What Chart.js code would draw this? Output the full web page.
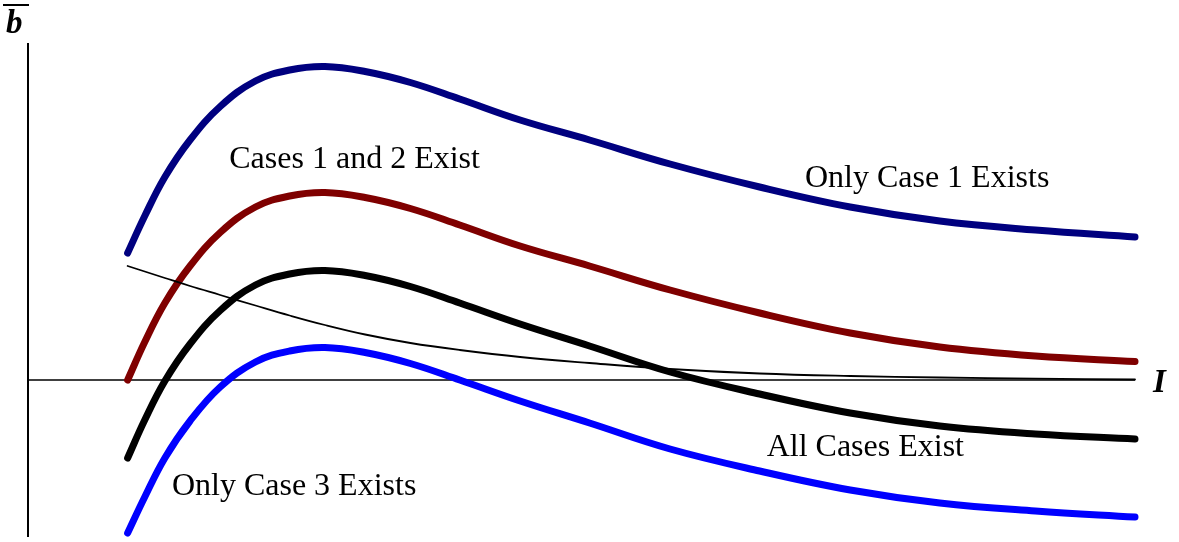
<!DOCTYPE html>
<html>
<head>
<meta charset="utf-8">
<script src="https://cdn.jsdelivr.net/npm/chart.js"></script>
<style>
  html, body { margin: 0; padding: 0; background: #fff; }
  canvas { display: block; }
</style>
</head>
<body>
<canvas id="chart-regions" width="1179" height="542"></canvas>
<script>
// values (I on x, b-bar on y)
const iValues = [0.99, 1.16, 1.36, 1.61, 1.91, 2.26, 2.60, 2.95, 3.35, 3.80, 4.29, 4.89, 5.58, 6.38, 7.27, 8.17, 9.06, 10.01, 11.0];

const navyCurve = [1.27, 1.64, 2.03, 2.40, 2.735, 2.99, 3.10, 3.135, 3.085, 2.975, 2.81, 2.60, 2.40, 2.16, 1.93, 1.73, 1.59, 1.50, 1.43];
const redCurve = [0.00, 0.38, 0.77, 1.14, 1.475, 1.73, 1.84, 1.875, 1.825, 1.715, 1.55, 1.34, 1.14, 0.90, 0.67, 0.47, 0.33, 0.24, 0.185];
const blackCurve = [-0.78, -0.40, -0.01, 0.36, 0.695, 0.95, 1.06, 1.095, 1.045, 0.935, 0.77, 0.56, 0.34, 0.08, -0.14, -0.33, -0.46, -0.54, -0.59];
const blueCurve = [-1.53, -1.17, -0.78, -0.41, -0.07, 0.18, 0.29, 0.325, 0.275, 0.165, 0.00, -0.21, -0.43, -0.69, -0.91, -1.10, -1.23, -1.31, -1.37];
const thinCurve = [1.14, 1.085, 1.02, 0.94, 0.85, 0.745, 0.645, 0.55, 0.455, 0.37, 0.30, 0.23, 0.17, 0.11, 0.065, 0.04, 0.025, 0.013, 0.005];

const regionLabels = ["Cases 1 and 2 Exist", "Only Case 1 Exists", "All Cases Exist", "Only Case 3 Exists"];
const labelI = [2.0, 7.72, 7.34, 1.43];
const labelB = [2.12, 1.93, -0.76, -1.15];

const xMax = 11;
const yMin = -1.57;
const yMax = 3.37;

function toPoints(ys) {
  return ys.map((y, i) => ({ x: iValues[i], y }));
}

function curve(ys, color, width) {
  return {
    data: toPoints(ys),
    borderColor: color,
    borderWidth: width,
    borderCapStyle: "round",
    borderJoinStyle: "round",
    pointRadius: 0,
    tension: 0.4,
    fill: false,
    clip: false,
  };
}

// axes + text, drawn by hand like the original
const axesPlugin = {
  id: "axes",
  beforeDatasetsDraw(chart) {
    const { ctx, scales } = chart;
    const x0 = scales.x.getPixelForValue(0);
    const x1 = scales.x.getPixelForValue(xMax);
    const y0 = scales.y.getPixelForValue(0);
    const yTop = scales.y.getPixelForValue(yMax);
    const yBot = scales.y.getPixelForValue(yMin);
    ctx.save();
    ctx.strokeStyle = "#000";
    ctx.lineWidth = 2;
    ctx.beginPath();
    ctx.moveTo(x0, yTop);
    ctx.lineTo(x0, yBot);
    ctx.stroke();
    ctx.lineWidth = 1.6;
    ctx.beginPath();
    ctx.moveTo(x0, y0);
    ctx.lineTo(x1, y0);
    ctx.stroke();
    ctx.restore();
  },
  afterDatasetsDraw(chart) {
    const { ctx, scales } = chart;
    ctx.save();
    ctx.fillStyle = "#000";
    ctx.textBaseline = "alphabetic";
    ctx.textAlign = "left";
    ctx.font = '32px "Liberation Serif", "Times New Roman", serif';
    regionLabels.forEach((t, i) => {
      ctx.fillText(t, scales.x.getPixelForValue(labelI[i]), scales.y.getPixelForValue(labelB[i]));
    });
    ctx.font = 'bold italic 33px "Liberation Serif", "Times New Roman", serif';
    const x0 = scales.x.getPixelForValue(0);
    const x1 = scales.x.getPixelForValue(xMax);
    const y0 = scales.y.getPixelForValue(0);
    ctx.fillText("I", x1 + 18, y0 + 12);
    ctx.fillText("b", x0 - 22, 33);
    // overbar of b
    ctx.fillRect(x0 - 25, 4, 26, 2);
    ctx.restore();
  },
};

function initRegionChart() {
  const ctx = document.getElementById("chart-regions");
  if (!ctx) return;

  new Chart(ctx, {
    type: "line",
    data: {
      datasets: [
        curve(thinCurve, "#000000", 1.8),
        curve(navyCurve, "#00007f", 7),
        curve(redCurve, "#7f0000", 7),
        curve(blackCurve, "#000000", 7),
        curve(blueCurve, "#0000ff", 7),
      ],
    },
    options: {
      responsive: false,
      animation: false,
      devicePixelRatio: 1,
      layout: { padding: { left: 28, right: 44, top: 43, bottom: 5 } },
      plugins: { legend: { display: false }, tooltip: { enabled: false } },
      scales: {
        x: { type: "linear", min: 0, max: xMax, display: false },
        y: { type: "linear", min: yMin, max: yMax, display: false },
      },
    },
    plugins: [axesPlugin],
  });
}

document.addEventListener("DOMContentLoaded", initRegionChart);
</script>
</body>
</html>
